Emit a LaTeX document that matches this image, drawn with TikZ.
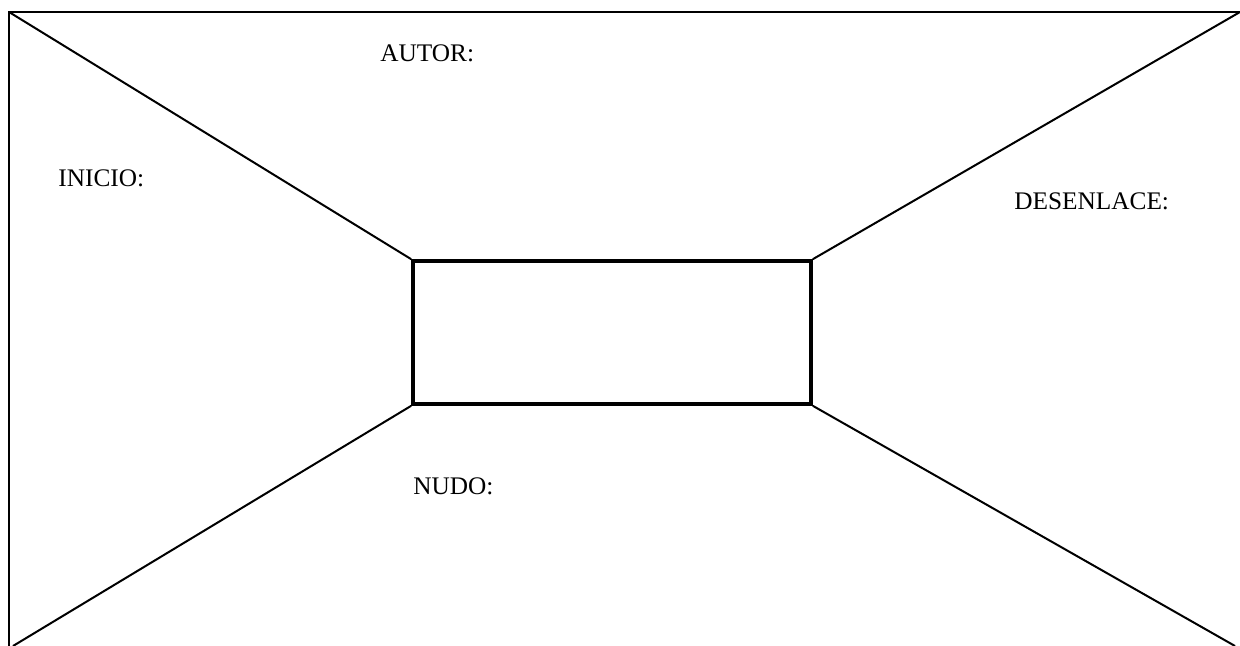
\documentclass[tikz,border=0pt]{standalone}
\usepackage{fontspec}
\setmainfont{Liberation Serif}
\begin{document}
\begin{tikzpicture}[x=0.5pt,y=-0.5pt,
  thin line/.style={line width=1pt},
  thick line/.style={line width=1.8pt},
  lbl/.style={anchor=base west,inner sep=0pt,font=\fontsize{12.65}{15}\selectfont}]
\useasboundingbox (0,0) rectangle (1240,646);
\coordinate (tl) at (9,12);
\coordinate (tr) at (1240,12);
\coordinate (bl) at (9,646);
\coordinate (blx) at (13,646);
\coordinate (brx) at (1235,646);
\node[draw,thick line,minimum width=199pt,minimum height=71.5pt,inner sep=0pt] (box) at (612,332.5) {};
\draw[thin line] (bl) -- (tl) -- (tr);
\draw[thin line] (tl) -- (box.north west);
\draw[thin line] (tr) -- (box.north east);
\draw[thin line] (box.south west) -- (blx);
\draw[thin line] (box.south east) -- (brx);
\node[lbl] (autor) at (380,62) {AUTOR:};
\node[lbl] (inicio) at (58,187) {INICIO:};
\node[lbl] (desenlace) at (1014,210) {DESENLACE:};
\node[lbl] (nudo) at (413,494) {NUDO:};
\end{tikzpicture}
\end{document}
